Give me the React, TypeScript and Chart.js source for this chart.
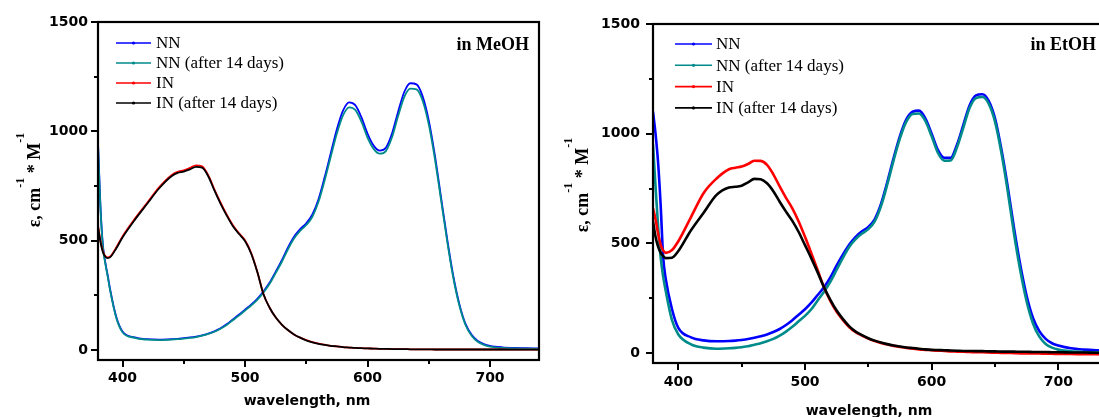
import React, { useEffect, useRef } from 'react';
import { Chart, registerables } from 'chart.js';

Chart.register(...registerables);

// ---------- data ----------
const WAVELENGTHS = [380, 382, 384, 386, 388, 390, 395, 400, 410, 420, 430, 440, 445, 450, 455, 460, 465, 470, 475, 480, 485, 490, 495, 500, 505, 510, 515, 520, 525, 530, 535, 540, 545, 550, 555, 560, 565, 570, 575, 580, 585, 590, 595, 600, 605, 610, 615, 620, 625, 630, 635, 640, 645, 650, 655, 660, 665, 670, 675, 680, 685, 690, 695, 700, 710, 720, 730, 740];

const MEOH_NN = [950, 660, 480, 400, 340, 275, 150, 85, 58, 50, 48, 50, 52, 55, 58, 62, 68, 76, 86, 100, 118, 140, 162, 185, 208, 235, 268, 308, 358, 410, 468, 518, 553, 580, 620, 690, 790, 900, 1010, 1095, 1133, 1120, 1065, 990, 935, 912, 925, 990, 1090, 1180, 1220, 1215, 1160, 1050, 890, 700, 510, 340, 210, 120, 70, 42, 28, 20, 13, 10, 9, 8];
const MEOH_NN_14D = [940, 650, 472, 394, 334, 270, 146, 82, 56, 48, 46, 48, 50, 53, 56, 60, 66, 74, 84, 98, 115, 137, 158, 181, 204, 230, 263, 302, 352, 403, 460, 510, 545, 572, 610, 678, 776, 884, 990, 1073, 1110, 1098, 1045, 972, 920, 898, 910, 973, 1070, 1157, 1195, 1192, 1140, 1032, 875, 688, 500, 332, 204, 115, 66, 38, 24, 16, 10, 8, 7, 6];
const MEOH_IN = [570, 500, 452, 430, 424, 428, 470, 520, 600, 672, 745, 800, 815, 822, 833, 845, 840, 800, 735, 675, 620, 572, 535, 502, 445, 360, 258, 195, 150, 117, 92, 72, 57, 46, 37, 30, 25, 20, 17, 14, 12, 10, 9, 8, 7, 6, 6, 5, 5, 5, 4, 4, 4, 4, 3, 3, 3, 3, 3, 3, 3, 3, 3, 3, 3, 2, 2, 2];
const MEOH_IN_14D = [565, 495, 448, 427, 421, 425, 466, 515, 595, 668, 740, 795, 810, 816, 826, 838, 834, 795, 730, 670, 616, 568, 532, 499, 442, 358, 257, 195, 150, 117, 92, 72, 57, 45, 36, 29, 24, 20, 17, 14, 12, 10, 9, 8, 7, 6, 6, 5, 5, 5, 4, 4, 4, 4, 3, 3, 3, 3, 3, 3, 3, 3, 3, 3, 3, 2, 2, 2];

const ETOH_NN = [1100, 1000, 870, 680, 440, 340, 200, 115, 72, 58, 54, 55, 57, 60, 64, 70, 77, 85, 96, 110, 128, 150, 175, 200, 230, 265, 300, 345, 400, 450, 495, 530, 555, 575, 610, 680, 780, 890, 990, 1065, 1100, 1105, 1070, 1000, 925, 890, 890, 950, 1040, 1130, 1175, 1180, 1150, 1070, 930, 760, 570, 400, 260, 160, 100, 65, 45, 35, 22, 16, 13, 12];
const ETOH_NN_14D = [950, 760, 580, 440, 350, 285, 150, 85, 40, 25, 20, 22, 24, 27, 31, 38, 45, 54, 65, 80, 98, 120, 145, 170, 200, 240, 280, 325, 380, 435, 485, 520, 545, 565, 600, 670, 770, 880, 980, 1055, 1090, 1092, 1058, 988, 912, 877, 878, 938, 1028, 1118, 1162, 1167, 1137, 1055, 915, 740, 545, 375, 235, 135, 75, 42, 25, 16, 8, 5, 4, 3];
const ETOH_IN = [660, 610, 545, 495, 468, 457, 470, 510, 620, 730, 795, 838, 845, 850, 862, 877, 876, 858, 815, 760, 708, 660, 600, 530, 455, 378, 300, 238, 188, 150, 118, 95, 80, 66, 55, 46, 39, 33, 28, 24, 20, 17, 15, 13, 11, 10, 8, 7, 6, 5, 4, 4, 3, 2, 1, 1, 0, -1, -1, -2, -2, -3, -3, -4, -4, -5, -5, -6];
const ETOH_IN_14D = [600, 530, 485, 458, 442, 433, 435, 465, 560, 640, 720, 755, 758, 763, 778, 794, 792, 774, 738, 690, 645, 603, 552, 492, 432, 368, 300, 243, 194, 155, 122, 98, 82, 68, 57, 48, 41, 35, 30, 26, 23, 20, 17, 15, 14, 13, 12, 11, 10, 10, 9, 9, 8, 8, 7, 7, 7, 6, 6, 5, 5, 5, 4, 4, 3, 3, 2, 2];

const SERIES_LABELS = ['NN', 'NN (after 14 days)', 'IN', 'IN (after 14 days)'];
const SERIES_COLORS = ['#0000ff', '#008b8b', '#ff0000', '#000000'];
const SERIES_DRAW_ORDER = [4, 3, 2, 1];

const X_TICKS = [400, 500, 600, 700];
const X_MINOR_TICKS = [450, 550, 650];
const Y_TICKS = [0, 500, 1000, 1500];
const Y_MINOR_TICKS = [250, 750, 1250];
const X_TITLE = 'wavelength, nm';
const PANEL_LABELS = ['in MeOH', 'in EtOH'];

// ---------- drawing helpers ----------
const TICK_FONT = { family: 'DejaVu Sans', size: 14, weight: 'bold' as const };

function drawYTitle(ctx: CanvasRenderingContext2D, baseX: number, centerY: number) {
  const parts: { t: string; sup: boolean }[] = [
    { t: 'ε, cm', sup: false },
    { t: '-1', sup: true },
    { t: ' * M', sup: false },
    { t: '-1', sup: true },
  ];
  const mainFont = 'bold 18px "Liberation Serif"';
  const supFont = 'bold 12px "Liberation Serif"';
  ctx.save();
  let total = 0;
  const widths = parts.map((p) => {
    ctx.font = p.sup ? supFont : mainFont;
    const w = ctx.measureText(p.t).width;
    total += w;
    return w;
  });
  ctx.translate(baseX, centerY);
  ctx.rotate(-Math.PI / 2);
  ctx.fillStyle = '#000';
  ctx.textBaseline = 'alphabetic';
  ctx.textAlign = 'left';
  let x = -total / 2;
  parts.forEach((p, i) => {
    ctx.font = p.sup ? supFont : mainFont;
    ctx.fillText(p.t, x, p.sup ? -16 : 0);
    x += widths[i];
  });
  ctx.restore();
}

function makeFramePlugin(opts: any) {
  return {
    id: 'frameAndDecor',
    afterDraw(chart: any) {
      const { ctx, chartArea, scales } = chart;
      const xs = scales.x;
      const ys = scales.y;
      ctx.save();
      // frame
      ctx.strokeStyle = '#000';
      ctx.lineWidth = 2.2;
      ctx.strokeRect(chartArea.left, chartArea.top, chartArea.right - chartArea.left, chartArea.bottom - chartArea.top);
      // ticks
      ctx.lineWidth = 2;
      ctx.beginPath();
      X_TICKS.forEach((v) => {
        const px = Math.round(xs.getPixelForValue(v));
        ctx.moveTo(px, chartArea.bottom);
        ctx.lineTo(px, chartArea.bottom + 7);
      });
      X_MINOR_TICKS.forEach((v) => {
        const px = Math.round(xs.getPixelForValue(v));
        ctx.moveTo(px, chartArea.bottom);
        ctx.lineTo(px, chartArea.bottom + 4);
      });
      Y_TICKS.forEach((v) => {
        const py = Math.round(ys.getPixelForValue(v));
        ctx.moveTo(chartArea.left, py);
        ctx.lineTo(chartArea.left - 7, py);
      });
      Y_MINOR_TICKS.forEach((v) => {
        const py = Math.round(ys.getPixelForValue(v));
        ctx.moveTo(chartArea.left, py);
        ctx.lineTo(chartArea.left - 4, py);
      });
      ctx.stroke();

      // legend
      chart.data.datasets.forEach((ds: any, i: number) => {
        const y = opts.legendY + i * opts.legendStep;
        ctx.strokeStyle = ds.borderColor;
        ctx.lineWidth = 1.6;
        ctx.beginPath();
        ctx.moveTo(opts.legendX, y);
        ctx.lineTo(opts.legendX + opts.legendLen, y);
        ctx.stroke();
        ctx.fillStyle = ds.borderColor;
        ctx.beginPath();
        ctx.arc(opts.legendX + opts.legendLen / 2, y, 1.6, 0, Math.PI * 2);
        ctx.fill();
        ctx.fillStyle = '#000';
        ctx.font = '17px "Liberation Serif"';
        ctx.textAlign = 'left';
        ctx.textBaseline = 'middle';
        ctx.fillText(ds.label, opts.legendX + opts.legendLen + opts.legendGap, y + 1);
      });

      // panel label
      ctx.fillStyle = '#000';
      ctx.font = 'bold 18px "Liberation Serif"';
      ctx.textAlign = 'right';
      ctx.textBaseline = 'alphabetic';
      ctx.fillText(opts.panelLabel, opts.labelRight, opts.labelBaseline);

      // x title
      ctx.font = 'bold 14px "DejaVu Sans"';
      ctx.textAlign = 'center';
      ctx.textBaseline = 'middle';
      ctx.fillText(X_TITLE, opts.xTitleX, opts.xTitleY);

      // y title
      drawYTitle(ctx, opts.yTitleX, opts.yTitleY);
      ctx.restore();
    },
  };
}

function Panel(props: { left: number; width: number; series: number[][]; lineWidth: number; layout: any }) {
  const ref = useRef<HTMLCanvasElement>(null);
  const { left, width, series, lineWidth, layout } = props;
  useEffect(() => {
    const canvas = ref.current;
    if (!canvas) return;
    const chart = new Chart(canvas, {
      type: 'line',
      data: {
        datasets: series.map((vals, i) => ({
          label: SERIES_LABELS[i],
          data: WAVELENGTHS.map((w, j) => ({ x: w, y: vals[j] })),
          borderColor: SERIES_COLORS[i],
          backgroundColor: SERIES_COLORS[i],
          borderWidth: lineWidth,
          pointRadius: 0,
          fill: false,
          order: SERIES_DRAW_ORDER[i],
          cubicInterpolationMode: 'monotone' as const,
        })),
      },
      options: {
        animation: false,
        responsive: false,
        events: [],
        layout: { padding: { top: layout.top, right: layout.right, left: 0, bottom: 0 } },
        plugins: { legend: { display: false }, tooltip: { enabled: false } },
        scales: {
          x: {
            type: 'linear',
            min: 380,
            max: 740,
            grid: { display: false, drawTicks: false },
            border: { display: false },
            afterBuildTicks: (s: any) => {
              s.ticks = X_TICKS.map((v) => ({ value: v }));
            },
            afterFit: (s: any) => {
              s.height = layout.xAxisHeight;
            },
            ticks: {
              font: TICK_FONT,
              color: '#000',
              padding: layout.xPad,
              maxRotation: 0,
              autoSkip: false,
              callback: (v: any) => String(v),
            },
          },
          y: {
            type: 'linear',
            min: -45,
            max: 1500,
            grid: { display: false, drawTicks: false },
            border: { display: false },
            afterBuildTicks: (s: any) => {
              s.ticks = Y_TICKS.map((v) => ({ value: v }));
            },
            afterFit: (s: any) => {
              s.width = layout.yAxisWidth;
            },
            ticks: { font: TICK_FONT, color: '#000', padding: layout.yPad, callback: (v: any) => String(v) },
          },
        },
      },
      plugins: [makeFramePlugin(layout.decor)],
    } as any);
    return () => chart.destroy();
  }, []);
  return (
    <div style={{ position: 'absolute', left, top: 0, width, height: 417 }}>
      <canvas ref={ref} width={width} height={417} style={{ width, height: 417, display: 'block' }} />
    </div>
  );
}

export default function App() {
  return (
    <div style={{ position: 'fixed', left: 0, top: 0, width: 1099, height: 417, overflow: 'hidden', background: '#fff' }}>
      <Panel
        left={0}
        width={550}
        lineWidth={1.8}
        series={[MEOH_NN, MEOH_NN_14D, MEOH_IN, MEOH_IN_14D]}
        layout={{
          top: 22,
          right: 11,
          xAxisHeight: 57,
          yAxisWidth: 98,
          xPad: 10,
          yPad: 10,
          decor: {
            legendX: 116,
            legendY: 43,
            legendStep: 20,
            legendLen: 35,
            legendGap: 5,
            panelLabel: PANEL_LABELS[0],
            labelRight: 529,
            labelBaseline: 50,
            xTitleX: 307,
            xTitleY: 401,
            yTitleX: 40,
            yTitleY: 180,
          },
        }}
      />
      <Panel
        left={550}
        width={570}
        lineWidth={2.6}
        series={[ETOH_NN, ETOH_NN_14D, ETOH_IN, ETOH_IN_14D]}
        layout={{
          top: 24,
          right: 11,
          xAxisHeight: 54,
          yAxisWidth: 103,
          xPad: 11,
          yPad: 13,
          decor: {
            legendX: 125,
            legendY: 44,
            legendStep: 21.3,
            legendLen: 37,
            legendGap: 4,
            panelLabel: PANEL_LABELS[1],
            labelRight: 546,
            labelBaseline: 50,
            xTitleX: 319,
            xTitleY: 411,
            yTitleX: 38,
            yTitleY: 185,
          },
        }}
      />
    </div>
  );
}
